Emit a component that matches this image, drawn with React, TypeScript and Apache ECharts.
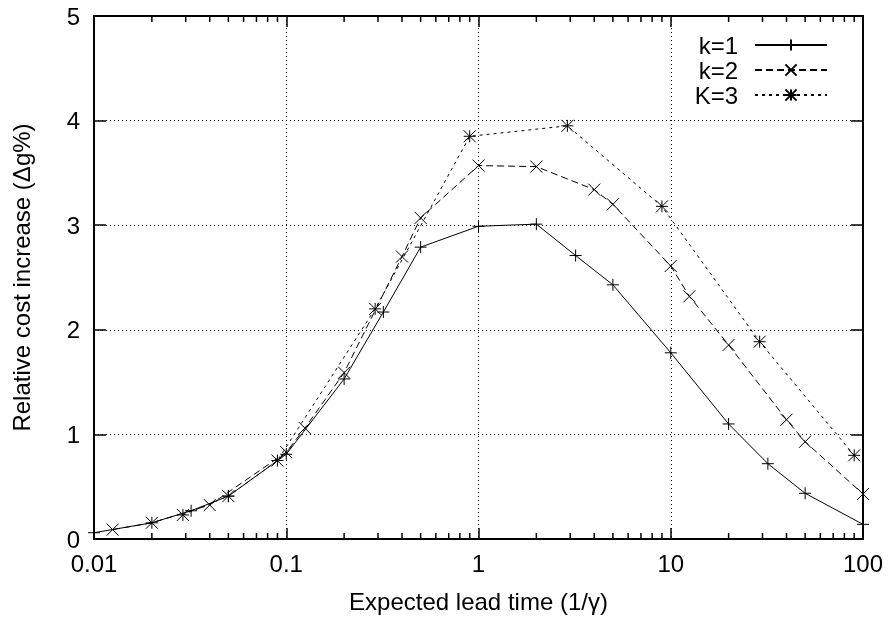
import React, { useEffect, useRef } from "react";
import * as echarts from "echarts";

// ---- data ----
const k1X = [0.01, 0.02, 0.032, 0.05, 0.1, 0.2, 0.32, 0.5, 1, 2, 3.2, 5, 10, 20, 32, 50, 100];
const k1Y = [0.06, 0.155, 0.27, 0.41, 0.81, 1.53, 2.17, 2.79, 2.99, 3.01, 2.71, 2.43, 1.78, 1.1, 0.72, 0.437, 0.14];

const k2X = [0.0125, 0.02, 0.04, 0.1, 0.125, 0.2, 0.4, 0.5, 1, 2, 4, 5, 10, 12.5, 20, 40, 50, 100];
const k2Y = [0.09, 0.155, 0.325, 0.83, 1.06, 1.59, 2.7, 3.07, 3.57, 3.56, 3.34, 3.2, 2.61, 2.32, 1.855, 1.14, 0.93, 0.43];

const k3X = [0.029, 0.05, 0.09, 0.29, 0.9, 2.9, 9, 29, 90];
const k3Y = [0.23, 0.41, 0.75, 2.2, 3.85, 3.95, 3.18, 1.886, 0.8];

const seriesNames = ["k=1", "k=2", "K=3"];
const xMin = 0.01;
const xMax = 100;
const yMin = 0;
const yMax = 5;
const yInterval = 1;
const minorMultipliers = [2, 3, 4, 5, 6, 7, 8, 9];
const minorDecades = [0.01, 0.1, 1, 10];

const FONT = "'Liberation Sans', Arial, Helvetica, sans-serif";

const plusSym = "path://M0,5 L10,5 M5,0 L5,10";
const crossSym = "path://M0,0 L10,10 M10,0 L0,10";
const starSym = "path://M0,5 L10,5 M5,0 L5,10 M0,0 L10,10 M10,0 L0,10";

function pairs(xs: number[], ys: number[]) {
  return xs.map((x, i) => [x, ys[i]]);
}

export default function App() {
  const ref = useRef<HTMLDivElement>(null);
  useEffect(() => {
    const chart = echarts.init(ref.current!, null, { renderer: "svg" });
    const minorX: number[] = [];
    minorDecades.forEach((d) => minorMultipliers.forEach((m) => minorX.push(Number((d * m).toPrecision(3)))));

    const labelFmt = (v: number) => String(Number(Number(v).toPrecision(3)));

    const baseX = {
      type: "log" as const,
      logBase: 10,
      min: xMin,
      max: xMax,
      axisLine: { show: true, onZero: false, lineStyle: { color: "#000", width: 2 } },
      axisTick: { show: true, inside: true, length: 11, lineStyle: { color: "#000", width: 1.5 } },
    };
    const baseY = {
      type: "value" as const,
      min: yMin,
      max: yMax,
      interval: yInterval,
      axisLine: { show: true, onZero: false, lineStyle: { color: "#000", width: 2 } },
      axisTick: { show: true, inside: true, length: 12, lineStyle: { color: "#000", width: 1.5 } },
    };

    const lineCommon = {
      type: "line" as const,
      symbolSize: 12,
      showAllSymbol: true,
      animation: false,
      emphasis: { disabled: true },
      itemStyle: { color: "rgba(0,0,0,0)", borderColor: "#000", borderWidth: 1 },
    };

    chart.setOption({
      animation: false,
      textStyle: { fontFamily: FONT, color: "#000" },
      grid: { left: 94, right: 25, top: 16, bottom: 80 },
      legend: {
        data: seriesNames,
        orient: "vertical",
        right: 55,
        top: 28,
        align: "right",
        itemWidth: 72,
        itemHeight: 14,
        itemGap: 1,
        selectedMode: false,
        textStyle: { fontSize: 24, color: "#000", fontFamily: FONT, lineHeight: 24, padding: [0, 12, 0, 0] },
      },
      xAxis: [
        {
          ...baseX,
          position: "bottom",
          axisLabel: { fontSize: 24, color: "#000", margin: 12, formatter: labelFmt, fontFamily: FONT },
          splitLine: { show: true, lineStyle: { color: "#000", width: 1, type: [1, 3] } },
          name: "Expected lead time (1/\u03b3)",
          nameLocation: "middle",
          nameGap: 50,
          nameTextStyle: { fontSize: 24, color: "#000", fontFamily: FONT },
        },
        {
          ...baseX,
          position: "top",
          axisLabel: { show: false },
          splitLine: { show: false },
        },
      ],
      yAxis: [
        {
          ...baseY,
          position: "left",
          axisLabel: { fontSize: 24, color: "#000", margin: 14, fontFamily: FONT },
          splitLine: { show: true, lineStyle: { color: "#000", width: 1, type: [1, 3] } },
          name: "Relative cost increase (\u0394g%)",
          nameLocation: "middle",
          nameGap: 61,
          nameTextStyle: { fontSize: 24, color: "#000", fontFamily: FONT },
        },
        {
          ...baseY,
          position: "right",
          axisLabel: { show: false },
          splitLine: { show: false },
        },
      ],
      series: [
        {
          ...lineCommon,
          name: seriesNames[0],
          symbol: plusSym,
          data: pairs(k1X, k1Y),
          lineStyle: { color: "#000", width: 1, type: "solid" },
        },
        {
          ...lineCommon,
          name: seriesNames[1],
          symbol: crossSym,
          data: pairs(k2X, k2Y),
          lineStyle: { color: "#000", width: 1, type: [7, 4] },
        },
        {
          ...lineCommon,
          name: seriesNames[2],
          symbol: starSym,
          data: pairs(k3X, k3Y),
          lineStyle: { color: "#000", width: 1, type: [3, 4] },
        },
      ],
    });

    // minor log ticks (2..9 per decade) on bottom and top edges, positioned by the axis scale
    const ticks: any[] = [];
    minorX.forEach((x) => {
      const b = chart.convertToPixel({ xAxisIndex: 0, yAxisIndex: 0 }, [x, yMin]) as any;
      const t = chart.convertToPixel({ xAxisIndex: 0, yAxisIndex: 0 }, [x, yMax]) as any;
      if (!b || !t) return;
      ticks.push({
        type: "line",
        shape: { x1: b[0], y1: b[1], x2: b[0], y2: b[1] - 6 },
        style: { stroke: "#000", lineWidth: 1.5 },
      });
      ticks.push({
        type: "line",
        shape: { x1: t[0], y1: t[1], x2: t[0], y2: t[1] + 6 },
        style: { stroke: "#000", lineWidth: 1.5 },
      });
    });
    chart.setOption({ graphic: { elements: ticks } });

    return () => chart.dispose();
  }, []);
  return <div ref={ref} style={{ position: "fixed", left: 0, top: 0, width: 888, height: 619 }} />;
}
